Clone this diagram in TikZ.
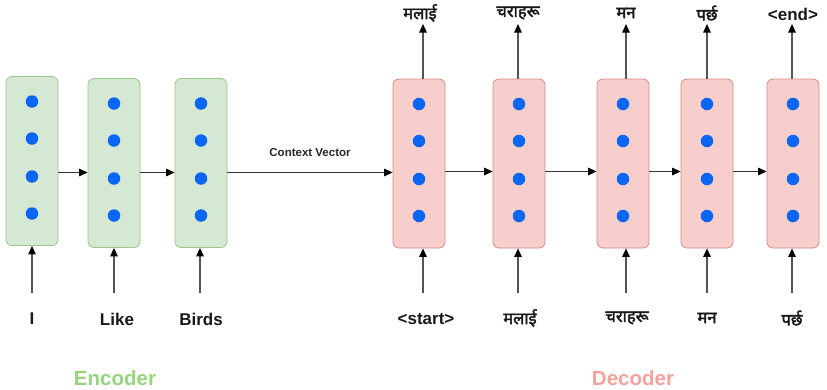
\documentclass[tikz,border=0pt]{standalone}
\usepackage{fontspec}
\setmainfont{Liberation Sans}
\newfontfamily\deva[Script=Devanagari,FakeBold=2.5]{Noto Sans}
\usetikzlibrary{arrows.meta}
\definecolor{encf}{HTML}{D5E8D4}
\definecolor{encb}{HTML}{9CC78A}
\definecolor{decf}{HTML}{F8CECC}
\definecolor{decb}{HTML}{D88A86}
\definecolor{dotc}{HTML}{0A66F5}
\definecolor{linec}{HTML}{555555}
\definecolor{enct}{HTML}{96D47E}
\definecolor{dect}{HTML}{F4A29B}
\begin{document}
\begin{tikzpicture}[x=1pt,y=-1pt,
  box/.style={rounded corners=6pt, minimum width=52pt, minimum height=169pt, line width=0.8pt, inner sep=0pt},
  enc/.style={box, draw=encb, fill=encf},
  dec/.style={box, draw=decb, fill=decf},
  dotn/.style={circle, fill=dotc, inner sep=0pt, minimum size=12.5pt},
  arr/.style={draw=linec, line width=1.2pt, -{Triangle[length=8.5pt,width=7.5pt,color=black]}},
  harr/.style={arr, draw=black!80},
  lbl/.style={font=\bfseries\fontsize{17}{20}\selectfont, text=black!90, inner sep=1pt},
  dlbl/.style={font=\deva\fontsize{16.5}{19}\selectfont, text=black!90, inner sep=1pt}]
\useasboundingbox (0,0) rectangle (827,389);
% encoder boxes
\node[enc] (e1) at (32,161) {};
\node[enc] (e2) at (114,163) {};
\node[enc] (e3) at (201,163) {};
% decoder boxes
\node[dec] (d1) at (419,163.5) {};
\node[dec] (d2) at (519,163.5) {};
\node[dec] (d3) at (623,163.5) {};
\node[dec] (d4) at (707,163.5) {};
\node[dec] (d5) at (793,163.5) {};
% dots
\foreach \b in {e1,e2,e3,d1,d2,d3,d4,d5}{
  \foreach \s/\i in {59.5/1,22.5/2,-15.5/3,-52.5/4}{
    \node[dotn] (\b-\i) at ([yshift=\s pt]\b.center) {};
  }
}
% horizontal arrow level
\coordinate (hl) at (0,172.5);
\coordinate (hd) at (0,171.5);
\draw[harr] (e1.east |- hl) -- (e2.west |- hl);
\draw[harr] (e2.east |- hl) -- (e3.west |- hl);
\draw[harr] (e3.east |- hl) -- node[above=12pt, font=\bfseries\fontsize{11.5}{13}\selectfont, text=black!85]{Context Vector} (d1.west |- hl);
\draw[harr] (d1.east |- hd) -- (d2.west |- hd);
\draw[harr] (d2.east |- hd) -- (d3.west |- hd);
\draw[harr] (d3.east |- hd) -- (d4.west |- hd);
\draw[harr] (d4.east |- hd) -- (d5.west |- hd);
% bottom labels
\node[lbl] (i1) at (32,319) {I};
\node[lbl] (i2) at (117,319) {Like};
\node[lbl] (i3) at (201,319) {Birds};
\node[lbl] (i4) at (426,319) {<start>};
\node[dlbl] (i5) at (520,318) {मलाई};
\node[dlbl] (i6) at (627,318) {चराहरू};
\node[dlbl] (i7) at (707,318) {मन};
\node[dlbl] (i8) at (792,318) {पर्छ};
% bottom arrow tails
\coordinate (c1) at (32,293);
\coordinate (c2) at (114,293);
\coordinate (c3) at (200,293);
\coordinate (c4) at (423,293);
\coordinate (c5) at (518,293);
\coordinate (c6) at (626,293);
\coordinate (c7) at (707,293);
\coordinate (c8) at (792,293);
\draw[arr] (c1) -- (c1 |- e1.south);
\draw[arr] (c2) -- (c2 |- e2.south);
\draw[arr] (c3) -- (c3 |- e3.south);
\draw[arr] (c4) -- (c4 |- d1.south);
\draw[arr] (c5) -- (c5 |- d2.south);
\draw[arr] (c6) -- (c6 |- d3.south);
\draw[arr] (c7) -- (c7 |- d4.south);
\draw[arr] (c8) -- (c8 |- d5.south);
% top labels
\node[dlbl] (o1) at (420,13) {मलाई};
\node[dlbl] (o2) at (518,13) {चराहरू};
\node[dlbl] (o3) at (626,13) {मन};
\node[dlbl] (o4) at (707,13) {पर्छ};
\node[lbl] (o5) at (793,14) {<end>};
\coordinate (t1) at (423,24);
\coordinate (t2) at (518,24);
\coordinate (t3) at (626,24);
\coordinate (t4) at (707,24);
\coordinate (t5) at (792,24);
\draw[arr] (t1 |- d1.north) -- (t1);
\draw[arr] (t2 |- d2.north) -- (t2);
\draw[arr] (t3 |- d3.north) -- (t3);
\draw[arr] (t4 |- d4.north) -- (t4);
\draw[arr] (t5 |- d5.north) -- (t5);
% section titles
\node[font=\bfseries\fontsize{20.5}{24}\selectfont, text=enct] (enc) at (115,378) {Encoder};
\node[font=\bfseries\fontsize{20.5}{24}\selectfont, text=dect] (dec) at (633,378) {Decoder};
\end{tikzpicture}
\end{document}
